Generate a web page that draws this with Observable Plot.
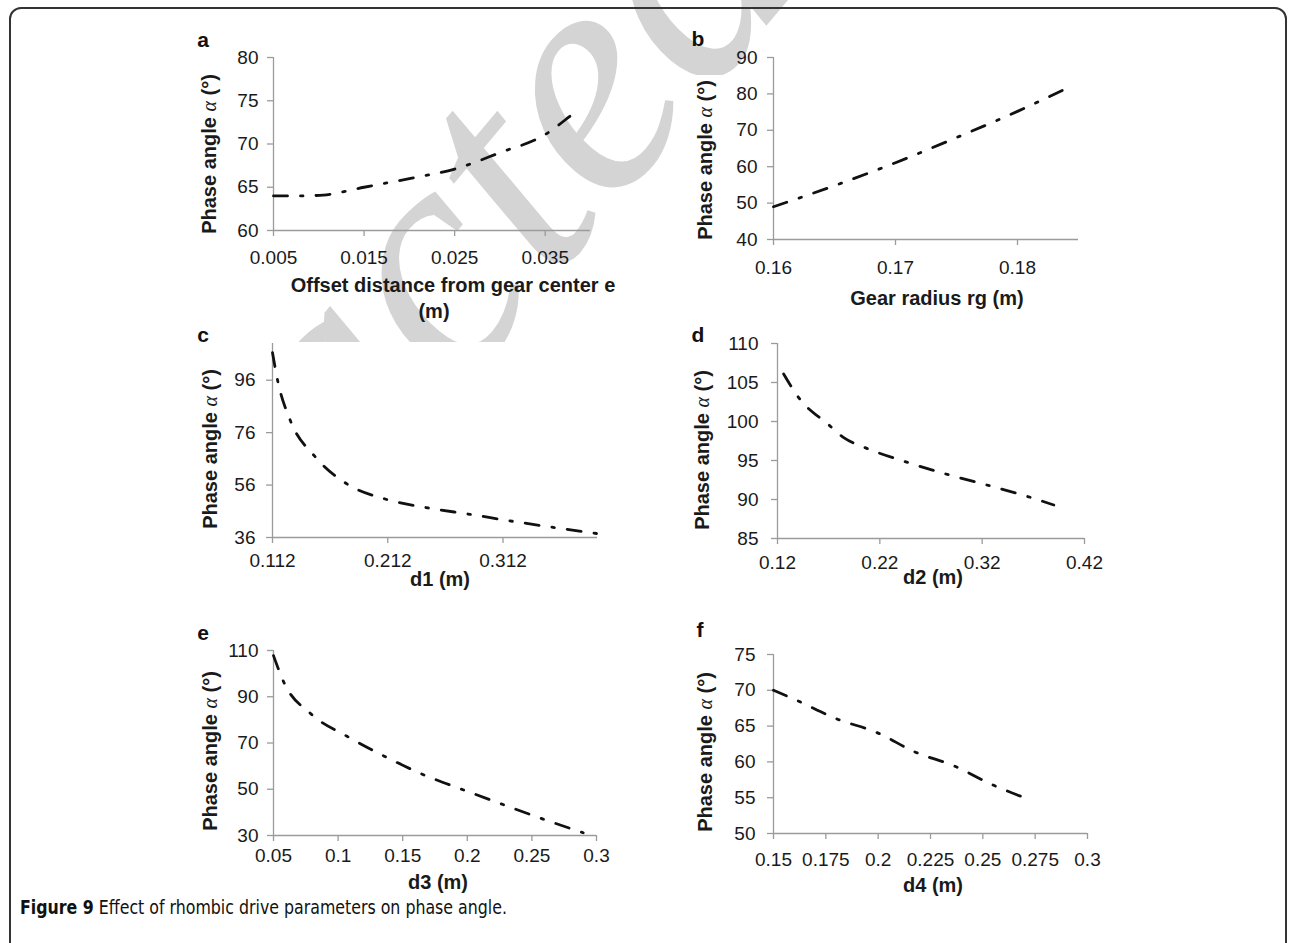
<!DOCTYPE html>
<html>
<head>
<meta charset="utf-8">
<script src="https://cdn.jsdelivr.net/npm/d3@7"></script>
<script src="https://cdn.jsdelivr.net/npm/@observablehq/plot@0.6"></script>
<style>
  html, body { margin: 0; padding: 0; background: #fff; }
  #root { position: relative; width: 1290px; height: 943px; overflow: hidden; background: #fff;
          font-family: "Liberation Sans", Arial, sans-serif; }
  #wm { position: absolute; left: 0; top: 0; }
  #frame { position: absolute; left: 9px; top: 7px; width: 1278px; height: 990px; box-sizing: border-box;
           border: 2px solid #333; border-radius: 12px; }
  #caption { position: absolute; left: 20px; top: 896px; font-family: "Liberation Sans Narrow", "DejaVu Sans Condensed", sans-serif;
             font-size: 19px; color: #111; white-space: nowrap; transform-origin: 0 0; }
  #caption b { font-weight: bold; }
  .panel { position: absolute; }
</style>
</head>
<body>
<div id="root">
  <svg id="wm" width="1290" height="943"></svg>
  <div id="frame"></div>
  <div id="caption"></div>
</div>
<script>
// ---------------- data ----------------
const letters = ["a", "b", "c", "d", "e", "f"];
const yTitleParts = ["Phase angle ", "α", " (°)"];
const xTitles = [
  ["Offset distance from gear center e", "(m)"],
  ["Gear radius rg (m)"],
  ["d1 (m)"],
  ["d2 (m)"],
  ["d3 (m)"],
  ["d4 (m)"]
];
const captionBold = "Figure 9";
const captionText = " Effect of rhombic drive parameters on phase angle.";
const watermarkText = "acted";

// panel a: offset distance e (m) vs phase angle
const aX = [0.005, 0.0079, 0.0105, 0.015, 0.02, 0.025, 0.03, 0.035, 0.0376, 0.0388];
const aY = [64.0, 64.0, 64.1, 65.0, 66.0, 67.1, 69.0, 71.1, 73.1, 74.1];
const aXTicks = [0.005, 0.015, 0.025, 0.035];
const aYTicks = [60, 65, 70, 75, 80];

// panel b: gear radius rg (m)
const bX = [0.16, 0.165, 0.17, 0.175, 0.18, 0.1845];
const bY = [49.0, 54.8, 61.1, 68.0, 75.2, 82.3];
const bXTicks = [0.16, 0.17, 0.18];
const bYTicks = [40, 50, 60, 70, 80, 90];

// panel c: d1 (m)
const cX = [0.112, 0.1164, 0.1274, 0.1484, 0.176, 0.2104, 0.2468, 0.2838, 0.3201, 0.3565, 0.3935];
const cY = [106.5, 96.0, 80.7, 67.1, 56.6, 50.6, 47.3, 44.8, 42.2, 39.8, 37.5];
const cXTicks = [0.112, 0.212, 0.312];
const cYTicks = [36, 56, 76, 96];

// panel d: d2 (m)
const dX = [0.126, 0.1405, 0.1698, 0.1851, 0.2046, 0.2437, 0.2837, 0.3234, 0.364, 0.39];
const dY = [106.1, 103.1, 99.6, 97.9, 96.7, 94.9, 93.3, 91.9, 90.4, 89.3];
const dXTicks = [0.12, 0.22, 0.32, 0.42];
const dYTicks = [85, 90, 95, 100, 105, 110];

// panel e: d3 (m)
const eX = [0.05, 0.0578, 0.079, 0.1069, 0.1361, 0.1656, 0.1966, 0.2276, 0.2586, 0.2897];
const eY = [107.8, 96.5, 82.6, 72.9, 64.2, 56.4, 49.8, 43.4, 37.1, 31.2];
const eXTicks = [0.05, 0.1, 0.15, 0.2, 0.25, 0.3];
const eYTicks = [30, 50, 70, 90, 110];

// panel f: d4 (m)
const fX = [0.15, 0.1618, 0.1803, 0.1994, 0.2175, 0.2366, 0.2546, 0.2737];
const fY = [70.0, 68.5, 66.0, 64.1, 61.4, 59.4, 56.8, 54.6];
const fXTicks = [0.15, 0.175, 0.2, 0.225, 0.25, 0.275, 0.3];
const fYTicks = [50, 55, 60, 65, 70, 75];

// ---------------- layout ----------------
const panels = [
  { xs: aX, ys: aY, xTicks: aXTicks, yTicks: aYTicks, xDomain: [0.005, 0.04], yDomain: [60, 80],
    box: [190, 20, 450, 300], plot: [273, 590, 57, 230], xPad: 14, yPad: 9,
    letterPos: [203, 47], yTitle: [216, 154], xTitlePos: [[453, 292], [434, 318]] },
  { xs: bX, ys: bY, xTicks: bXTicks, yTicks: bYTicks, xDomain: [0.16, 0.185], yDomain: [40, 90],
    box: [690, 20, 600, 300], plot: [773, 1078, 57, 239], xPad: 15, yPad: 10,
    letterPos: [698, 46], yTitle: [712, 160], xTitlePos: [[937, 305]] },
  { xs: cX, ys: cY, xTicks: cXTicks, yTicks: cYTicks, xDomain: [0.112, 0.394], yDomain: [36, 110],
    box: [190, 320, 450, 280], plot: [272, 597, 343, 537], xPad: 10, yPad: 11,
    letterPos: [203, 342], yTitle: [217, 449], xTitlePos: [[440, 586]] },
  { xs: dX, ys: dY, xTicks: dXTicks, yTicks: dYTicks, xDomain: [0.12, 0.42], yDomain: [85, 110],
    box: [690, 320, 600, 280], plot: [777, 1084, 343, 538], xPad: 11, yPad: 13,
    letterPos: [698, 342], yTitle: [709, 450], xTitlePos: [[933, 584]] },
  { xs: eX, ys: eY, xTicks: eXTicks, yTicks: eYTicks, xDomain: [0.05, 0.3], yDomain: [30, 110],
    box: [190, 600, 450, 300], plot: [273, 596, 650, 835], xPad: 7, yPad: 9,
    letterPos: [203, 640], yTitle: [217, 751], xTitlePos: [[438, 889]] },
  { xs: fX, ys: fY, xTicks: fXTicks, yTicks: fYTicks, xDomain: [0.15, 0.3], yDomain: [50, 75],
    box: [690, 600, 600, 300], plot: [773, 1087, 654, 833], xPad: 13, yPad: 12,
    letterPos: [700, 637], yTitle: [712, 752], xTitlePos: [[933, 892]] }
];

// ---------------- watermark (behind everything, only visible outside the opaque panels) ----------------
const wm = d3.select("#wm");
const clip = wm.append("defs").append("clipPath").attr("id", "wmclip");
clip.append("rect").attr("x", 0).attr("y", 0).attr("width", 690).attr("height", 342);
clip.append("rect").attr("x", 0).attr("y", 0).attr("width", 830).attr("height", 75);
clip.append("rect").attr("x", 0).attr("y", 0).attr("width", 271).attr("height", 943);
wm.append("g").attr("clip-path", "url(#wmclip)")
  .append("text")
  .attr("transform", "translate(350,522) rotate(-50)")
  .attr("font-family", "'Liberation Serif', serif").attr("font-style", "italic")
  .attr("font-size", 330).attr("fill", "#d4d4d4")
  .text(watermarkText);

const root = document.getElementById("root");
const axisGray = "#9b9b9b";

panels.forEach((p, i) => {
  const data = p.xs.map((x, k) => ({ x, y: p.ys[k] }));
  const [L, T, W, H] = p.box;
  const [x0, x1, y0, y1] = p.plot;
  const chart = Plot.plot({
    width: W, height: H,
    marginLeft: x0 - L, marginRight: L + W - x1, marginTop: y0 - T, marginBottom: T + H - y1,
    style: { fontFamily: "'Liberation Sans', Arial, sans-serif", fontSize: "19px", color: "#222",
             background: "transparent", overflow: "visible" },
    x: { domain: p.xDomain },
    y: { domain: p.yDomain },
    marks: [
      Plot.ruleY([p.yDomain[0]], { stroke: axisGray, strokeWidth: 1.3 }),
      Plot.ruleX([p.xDomain[0]], { stroke: axisGray, strokeWidth: 1.3 }),
      Plot.axisX(p.xTicks, { tickSize: 6, tickPadding: p.xPad, tickFormat: d => String(d),
                             stroke: axisGray, strokeWidth: 1.3, fill: "#1a1a1a", label: null }),
      Plot.axisY(p.yTicks, { tickSize: 6, tickPadding: p.yPad, tickFormat: d => String(d),
                             stroke: axisGray, strokeWidth: 1.3, fill: "#1a1a1a", label: null }),
      Plot.line(data, { x: "x", y: "y", stroke: "#111", strokeWidth: 2.8,
                        strokeDasharray: "14,13,2.5,13", curve: "monotone-x" })
    ]
  });
  chart.classList.add("panel");
  chart.style.left = L + "px";
  chart.style.top = T + "px";
  const svg = d3.select(chart);

  // panel letter
  svg.append("text")
    .attr("x", p.letterPos[0] - L).attr("y", p.letterPos[1] - T)
    .attr("font-weight", "bold").attr("font-size", 21).attr("fill", "#111")
    .text(letters[i]);

  // y title
  const yt = svg.append("text")
    .attr("transform", `translate(${p.yTitle[0] - L},${p.yTitle[1] - T}) rotate(-90)`)
    .attr("text-anchor", "middle").attr("font-weight", "bold").attr("font-size", 20).attr("fill", "#1a1a1a");
  yt.append("tspan").text(yTitleParts[0]);
  yt.append("tspan").attr("font-family", "'Liberation Serif', serif").attr("font-style", "italic")
    .attr("font-weight", "normal").text(yTitleParts[1]);
  yt.append("tspan").text(yTitleParts[2]);

  // x title lines
  xTitles[i].forEach((line, k) => {
    svg.append("text")
      .attr("x", p.xTitlePos[k][0] - L).attr("y", p.xTitlePos[k][1] - T)
      .attr("text-anchor", "middle").attr("font-weight", "bold").attr("font-size", 20).attr("fill", "#1a1a1a")
      .text(line);
  });

  root.appendChild(chart);
});

const cap = document.getElementById("caption");
const b = document.createElement("b");
b.textContent = captionBold;
cap.appendChild(b);
cap.appendChild(document.createTextNode(captionText));
const capW = cap.getBoundingClientRect().width;
cap.style.transform = `scaleX(${(487 / capW).toFixed(4)})`;
</script>
</body>
</html>
